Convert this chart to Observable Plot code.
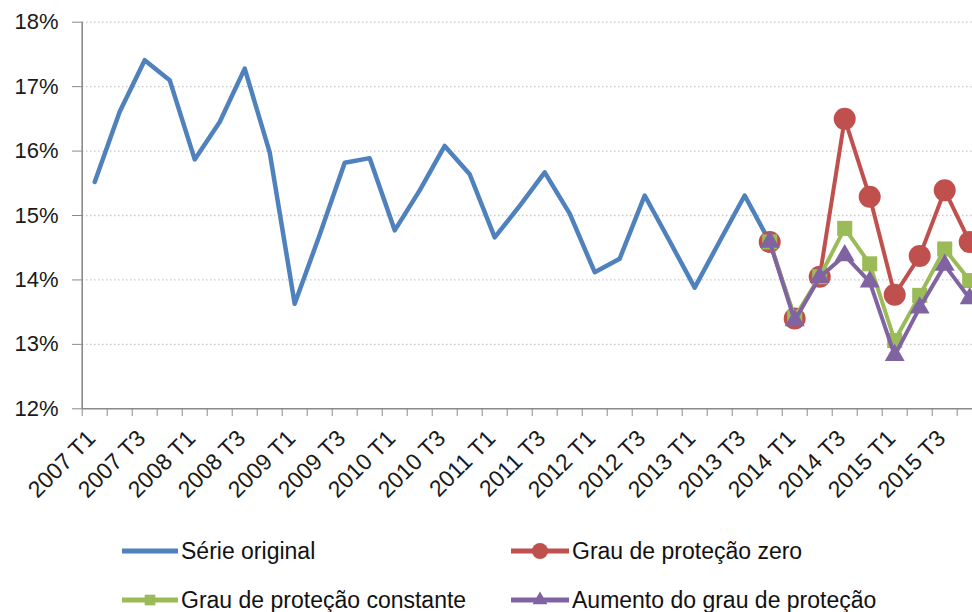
<!DOCTYPE html>
<html><head><meta charset="utf-8">
<script src="https://cdn.jsdelivr.net/npm/d3@7"></script>
<script src="https://cdn.jsdelivr.net/npm/@observablehq/plot@0.6"></script>
<style>
body{margin:0;background:#fff;}
#wrap{position:relative;width:972px;height:612px;overflow:hidden;font-family:"Liberation Sans",Arial,sans-serif;background:#fff;}
#wrap svg.plot{position:absolute;left:0;top:0;}
.leg{position:absolute;display:flex;align-items:center;font-size:23px;color:#111;white-space:nowrap;height:30px;}
.leg svg{display:block;margin-right:3px;}
</style></head><body><div id="wrap"></div>
<script>
const categories = ["2007 T1","2007 T2","2007 T3","2007 T4","2008 T1","2008 T2","2008 T3","2008 T4",
"2009 T1","2009 T2","2009 T3","2009 T4","2010 T1","2010 T2","2010 T3","2010 T4",
"2011 T1","2011 T2","2011 T3","2011 T4","2012 T1","2012 T2","2012 T3","2012 T4",
"2013 T1","2013 T2","2013 T3","2013 T4","2014 T1","2014 T2","2014 T3","2014 T4",
"2015 T1","2015 T2","2015 T3","2015 T4"];
const labeledQuarters = ["2007 T1","2007 T3","2008 T1","2008 T3","2009 T1","2009 T3","2010 T1","2010 T3",
"2011 T1","2011 T3","2012 T1","2012 T3","2013 T1","2013 T3","2014 T1","2014 T3","2015 T1","2015 T3"];
const yTicks = [12,13,14,15,16,17,18];

const originalQuarters = categories.slice(0, 28);
const serieOriginal = [15.52,16.61,17.41,17.10,15.87,16.45,17.28,15.98,13.63,14.70,15.82,15.89,14.77,15.39,16.08,15.64,
14.66,15.15,15.67,15.03,14.12,14.33,15.31,14.60,13.88,14.60,15.31,14.59];
const scenarioQuarters = categories.slice(27);
const grauZero = [14.59,13.40,14.05,16.50,15.29,13.77,14.37,15.39,14.59];
const grauConstante = [14.59,13.42,14.05,14.80,14.25,13.06,13.76,14.48,13.99];
const aumentoGrau = [14.59,13.37,14.04,14.38,13.97,12.83,13.57,14.23,13.71];

const series = [
  {name:"Série original", color:"#4F81BD", q: originalQuarters, v: serieOriginal, symbol:null},
  {name:"Grau de proteção zero", color:"#C0504D", q: scenarioQuarters, v: grauZero, symbol:"circle", r:11, lr:8},
  {name:"Grau de proteção constante", color:"#9BBB59", q: scenarioQuarters, v: grauConstante, symbol:"square", r:8.5, lr:6},
  {name:"Aumento do grau de proteção", color:"#8064A2", q: scenarioQuarters, v: aumentoGrau, symbol:"triangle", r:7.4, lr:5.5}
];
const idx = q => categories.indexOf(q);
const rowsOf = s => s.q.map((q,i) => ({i: idx(q), v: s.v[i]}));
const edges = categories.map((_, i) => i - 0.5).concat([categories.length - 0.5]);

const marks = [
  Plot.gridY(yTicks.slice(1), {stroke:"#c8c8c8", strokeOpacity:1, strokeDasharray:"1.5,2.5", strokeWidth:1.3}),
  Plot.axisY({ticks: yTicks, tickFormat: d => d + "%", tickSize: 10, tickPadding: 14, fontSize: 22, stroke:"#8a8a8a", fill:"#1a1a1a", label: null}),
  Plot.axisX({ticks: edges, tickFormat: () => "", tickSize: 8, stroke:"#8a8a8a", label: null}),
  Plot.axisX({ticks: labeledQuarters.map(idx), tickFormat: i => categories[i], tickSize: 0, tickPadding: 26, tickRotate: -45, dx: -3, fontSize: 23, fill:"#1a1a1a", label: null}),
  Plot.ruleX([-0.5], {y1: 12, y2: 18, stroke:"#8a8a8a", strokeWidth: 1.6}),
  Plot.ruleY([12], {stroke:"#8a8a8a", strokeWidth: 1.6})
];
series.forEach((s, k) => {
  const rows = rowsOf(s);
  marks.push(Plot.line(rows, {x:"i", y:"v", stroke: s.color, strokeWidth: k === 0 ? 4.5 : 4}));
  if (s.symbol) marks.push(Plot.dot(rows, {x:"i", y:"v", fill: s.color, symbol: s.symbol, r: s.r, stroke: "none"}));
});

const chart = Plot.plot({
  width: 972, height: 520,
  marginLeft: 82, marginRight: 0, marginTop: 22, marginBottom: 112,
  x: {type:"linear", domain:[-0.5, 35.5], range:[81.7, 981.7], label: null},
  y: {domain:[12, 18], range:[408.3, 21.7], label: null},
  style: {fontFamily:"'Liberation Sans', Arial, sans-serif", fontSize:"22px", background:"#fff", color:"#1a1a1a"},
  marks
});
const wrap = document.getElementById("wrap");
wrap.appendChild(chart);

// legend
const legPos = [[122, 551],[511, 551],[122, 600],[511, 600]];
series.forEach((s, k) => {
  const d = document.createElement("div");
  d.className = "leg";
  d.style.left = legPos[k][0] + "px";
  d.style.top = (legPos[k][1] - 15) + "px";
  const w = k % 2 === 0 ? 56 : 58;
  const sw = d3.create("svg").attr("width", w).attr("height", 30);
  sw.append("line").attr("x1", 0).attr("x2", w).attr("y1", 15).attr("y2", 15)
    .attr("stroke", s.color).attr("stroke-width", 5).attr("stroke-linecap", "round");
  if (s.symbol) {
    const sym = {circle: d3.symbolCircle, square: d3.symbolSquare, triangle: d3.symbolTriangle}[s.symbol];
    sw.append("path").attr("transform", `translate(${w/2},15)`)
      .attr("d", d3.symbol(sym, Math.PI * s.lr * s.lr)()).attr("fill", s.color);
  }
  d.appendChild(sw.node());
  const t = document.createElement("span");
  t.textContent = s.name;
  d.appendChild(t);
  wrap.appendChild(d);
});
</script></body></html>
